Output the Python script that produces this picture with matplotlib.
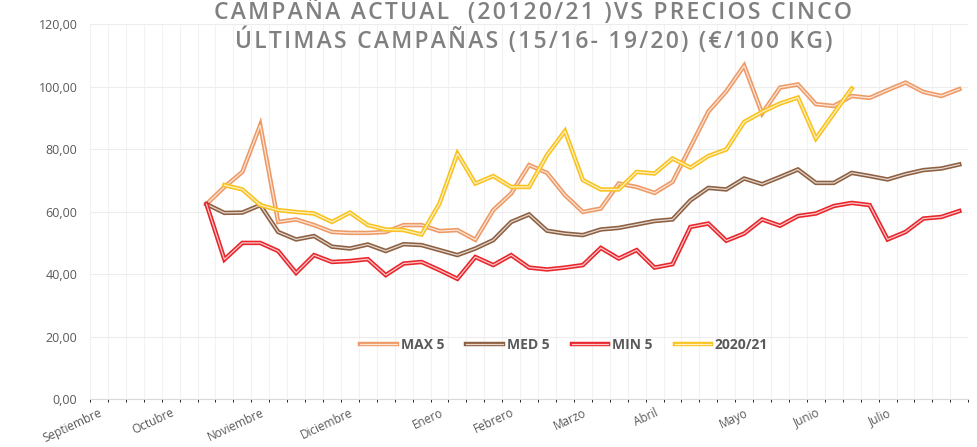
import matplotlib
matplotlib.use("Agg")
import matplotlib.pyplot as plt
import matplotlib.patheffects as pe
import numpy as np

# weekly categories of the season (Sept -> Aug), only some carry a month label
n_weeks = 49
month_weeks = [0, 4, 9, 14, 19, 23, 27, 31, 36, 40, 44]
month_names = ["Septiembre", "Octubre", "Noviembre", "Diciembre", "Enero", "Febrero",
               "Marzo", "Abril", "Mayo", "Junio", "Julio"]

# five-season series start at week 6, current season at week 7
start_5 = 6
start_cur = 7

max5 = [62.4, 67.9, 72.7, 87.7, 56.7, 57.5, 55.7, 53.5, 53.2, 53.2,
        53.5, 55.7, 55.7, 53.8, 54.1, 51.0, 60.5, 65.8, 74.9, 72.4,
        65.3, 59.9, 61.0, 69.0, 67.9, 66.0, 69.5, 80.7, 92.0, 98.5,
        106.7, 91.4, 99.7, 100.7, 94.4, 93.8, 97.0, 96.4, 98.9, 101.3,
        98.3, 97.0, 99.2]
med5 = [62.4, 59.6, 59.7, 62.1, 53.5, 51.1, 52.2, 48.8, 48.2, 49.5,
        47.4, 49.6, 49.3, 47.7, 46.1, 48.2, 50.9, 56.7, 59.1, 53.9,
        53.0, 52.5, 54.3, 54.8, 55.9, 57.0, 57.5, 63.6, 67.6, 67.1,
        70.6, 68.8, 71.1, 73.5, 69.2, 69.2, 72.4, 71.4, 70.3, 72.0,
        73.3, 73.8, 75.1]
min5 = [62.4, 44.7, 50.0, 50.0, 47.4, 40.4, 46.1, 43.9, 44.2, 44.8,
        39.7, 43.4, 43.9, 41.3, 38.5, 45.5, 42.9, 46.1, 42.1, 41.5,
        42.1, 42.9, 48.4, 45.0, 47.7, 42.1, 43.2, 55.1, 56.2, 50.7,
        53.0, 57.5, 55.5, 58.6, 59.4, 61.8, 62.8, 62.1, 51.1, 53.5,
        57.8, 58.3, 60.2]
cur = [68.5, 67.1, 62.1, 60.5, 59.9, 59.4, 56.7, 59.7, 55.7, 54.3,
       54.1, 52.7, 62.6, 78.6, 69.0, 71.4, 67.9, 67.9, 78.1, 85.8,
       70.1, 67.1, 67.1, 72.7, 72.2, 77.0, 74.1, 77.8, 79.9, 88.7,
       91.9, 94.6, 96.5, 83.4, 91.4, 99.4]

series = [("MAX 5", max5, start_5, "#EE9A66"),
          ("MED 5", med5, start_5, "#8E6042"),
          ("MIN 5", min5, start_5, "#E8262C"),
          ("2020/21", cur, start_cur, "#F9C31F")]

title1 = "CAMPAÑA ACTUAL  (20120/21 )VS PRECIOS CINCO"
title2 = "ÚLTIMAS CAMPAÑAS (15/16- 19/20) (€/100 KG)"

fig = plt.figure(figsize=(9.78, 4.47), dpi=100)
ax = fig.add_axes([0.092, 0.107, 0.898, 0.839])

for name, vals, start, col in series:
    x = np.arange(start, start + len(vals))
    ax.plot(x, vals, color="white", lw=0.9, alpha=0.75, label=name,
            solid_joinstyle="miter",
            path_effects=[pe.Stroke(linewidth=3.2, foreground=col), pe.Normal()])

ax.set_xlim(-0.5, n_weeks - 0.5)
ax.set_ylim(0, 120)
ax.set_yticks(np.arange(0, 121, 20))
ax.set_yticklabels([f"{v:.2f}".replace(".", ",") for v in np.arange(0, 121, 20)])
ax.set_xticks(month_weeks)
ax.set_xticklabels(month_names, rotation=25, ha="right", va="top",
                   rotation_mode="anchor")
ax.set_xticks(np.arange(n_weeks + 1) - 0.5, minor=True)

ax.tick_params(axis="both", length=0, labelcolor="#595959")
ax.tick_params(axis="y", pad=9, labelsize=9)
ax.tick_params(axis="x", pad=5, labelsize=8.5)
for lab in ax.get_xticklabels() + ax.get_yticklabels():
    lab.set_fontfamily("Open Sans")

ax.grid(True, axis="y", color="#EDEDED", lw=0.8)
ax.grid(True, axis="x", which="minor", color="#F2F2F2", lw=0.8)
ax.set_axisbelow(True)
for s in ["top", "right", "left"]:
    ax.spines[s].set_visible(False)
ax.spines["bottom"].set_color("#D9D9D9")

leg = ax.legend(loc="center", bbox_to_anchor=(0.54, 0.144), ncol=4, frameon=False,
                handlelength=2.6, handletextpad=0.3, columnspacing=1.6,
                prop={"family": "Open Sans", "weight": "bold", "size": 10})
for t in leg.get_texts():
    t.set_color("#595959")

# letter-spaced title, as in the original
spaced = lambda s: "\u200a".join(s)
title_kw = dict(ha="center", va="baseline", fontsize=16.5, color="#808080",
                fontfamily=["Open Sans", "DejaVu Sans"], fontweight="semibold")
fig.text(0.545, 0.958, spaced(title1), **title_kw)
fig.text(0.546, 0.893, spaced(title2), **title_kw)

fig.savefig("out.png", dpi=100)
